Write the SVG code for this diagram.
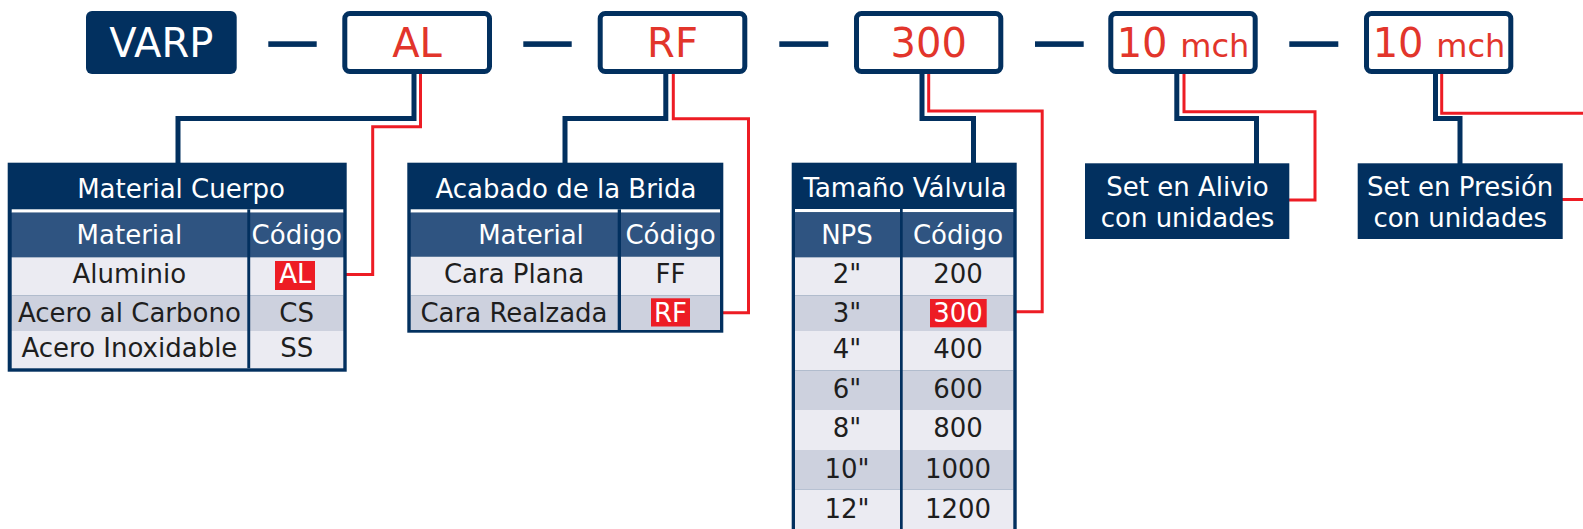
<svg xmlns="http://www.w3.org/2000/svg" width="1583" height="529" viewBox="0 0 1583 529">
<style>
text{font-family:"DejaVu Sans","Noto Sans",sans-serif}
.navy{fill:#02305f}
.code{fill:#fff;stroke:#02305f;stroke-width:5}
.big{font-size:40px;fill:#e2352b;text-anchor:middle}
.unit{font-size:32px}
.wt{fill:#fff;font-size:26px;text-anchor:middle}
.tt{fill:#1e1e1e;font-size:26px;text-anchor:middle}
.sub{fill:#2f5481}
.lt{fill:#ebebf2}
.dk{fill:#cdd1de}
.hl{fill:#ed1c24}
.cn{fill:none;stroke:#02305f;stroke-width:5}
.cr{fill:none;stroke:#ed1c24;stroke-width:3}
</style>
<g id="connectors">
<rect class="navy" x="268.3" y="41.3" width="48.4" height="5.6"/>
<rect class="navy" x="523.3" y="41.3" width="48.4" height="5.6"/>
<rect class="navy" x="779.3" y="41.3" width="49" height="5.6"/>
<rect class="navy" x="1035" y="41.3" width="48.7" height="5.6"/>
<rect class="navy" x="1289.3" y="41.3" width="49" height="5.6"/>
<path class="cn" d="M414,72 V118.5 H178 V164"/>
<path class="cn" d="M665.8,72 V118.5 H565 V164"/>
<path class="cn" d="M922,72 V118.5 H973.5 V164"/>
<path class="cn" d="M1176.8,72 V118.5 H1256.5 V164"/>
<path class="cn" d="M1435.5,72 V118.5 H1460 V164"/>
<path class="cr" d="M420.5,72 V126.7 H372.7 V274.5 H314"/>
<path class="cr" d="M673.3,72 V118.7 H748.5 V312.8 H689"/>
<path class="cr" d="M928.7,72 V111 H1042.2 V311.7 H985.7"/>
<path class="cr" d="M1184,72 V111.7 H1315 V200 H1288"/>
<path class="cr" d="M1441.7,72 V113.3 H1590"/>
<path class="cr" d="M1562,199.5 H1590"/>
</g>
<g id="varp">
<rect class="navy" x="86" y="11" width="150.7" height="63" rx="6"/>
<text x="161.3" y="57.3" font-size="40" fill="#fff" text-anchor="middle">VARP</text>
</g>
<g id="code-al">
<rect class="code" x="344.8" y="13.5" width="144.7" height="58" rx="5"/>
<text class="big" x="417" y="57.3">AL</text>
</g>
<g id="code-rf">
<rect class="code" x="600.2" y="13.5" width="144.6" height="58" rx="5"/>
<text class="big" x="672.5" y="57.3">RF</text>
</g>
<g id="code-300">
<rect class="code" x="856.5" y="13.5" width="144.3" height="58" rx="5"/>
<text class="big" x="928.7" y="57.3">300</text>
</g>
<g id="code-alivio">
<rect class="code" x="1110.8" y="13.5" width="144.4" height="58" rx="5"/>
<text class="big" x="1183" y="57.3">10 <tspan class="unit">mch</tspan></text>
</g>
<g id="code-presion">
<rect class="code" x="1366.5" y="13.5" width="144.3" height="58" rx="5"/>
<text class="big" x="1439" y="57.3">10 <tspan class="unit">mch</tspan></text>
</g>
<g id="set-alivio">
<rect class="navy" x="1085" y="163.3" width="204.3" height="75.7"/>
<text class="wt" x="1187.5" y="196">Set en Alivio</text>
<text class="wt" x="1187.5" y="227.3">con unidades</text>
</g>
<g id="set-presion">
<rect class="navy" x="1357.7" y="163.3" width="205" height="75.7"/>
<text class="wt" x="1460.2" y="196">Set en Presión</text>
<text class="wt" x="1460.2" y="227.3">con unidades</text>
</g>
<g id="table-material">
<rect class="navy" x="7.7" y="162.7" width="339" height="209"/>
<rect fill="#fff" x="11.7" y="209.3" width="331.6" height="3.4"/>
<rect class="sub" x="11.7" y="212.7" width="331.6" height="44.6"/>
<rect class="lt" x="11.7" y="257.3" width="331.6" height="38.4"/>
<rect class="dk" x="11.7" y="295.7" width="331.6" height="35.3"/>
<rect class="lt" x="11.7" y="331" width="331.6" height="37.3"/>
<rect class="navy" x="247.3" y="209.3" width="2.9" height="159"/>
<rect class="hl" x="275" y="261" width="40" height="29"/>
<text class="wt" x="181" y="197.5">Material Cuerpo</text>
<text class="wt" x="129.4" y="243.5">Material</text>
<text class="wt" x="296.7" y="243.5">Código</text>
<text class="tt" x="129.4" y="283.3">Aluminio</text>
<text class="wt" x="295.3" y="283.3">AL</text>
<text class="tt" x="129.4" y="321.7">Acero al Carbono</text>
<text class="tt" x="296.7" y="321.7">CS</text>
<text class="tt" x="129.4" y="356.7">Acero Inoxidable</text>
<text class="tt" x="296.7" y="356.7">SS</text>
</g>
<g id="table-brida">
<rect class="navy" x="407.3" y="162.7" width="316" height="170"/>
<rect fill="#fff" x="410.7" y="209.3" width="309.3" height="3.4"/>
<rect class="sub" x="410.7" y="212.7" width="309.3" height="44"/>
<rect class="lt" x="410.7" y="256.7" width="309.3" height="39"/>
<rect class="dk" x="410.7" y="295.7" width="309.3" height="34.3"/>
<rect class="navy" x="617.7" y="209.3" width="3.3" height="120.7"/>
<rect class="hl" x="651" y="298.3" width="39" height="28.2"/>
<text class="wt" x="566" y="197.5">Acabado de la Brida</text>
<text class="wt" x="531" y="243.5">Material</text>
<text class="wt" x="670.5" y="243.5">Código</text>
<text class="tt" x="514" y="283.3">Cara Plana</text>
<text class="tt" x="670.5" y="283.3">FF</text>
<text class="tt" x="514" y="321.7">Cara Realzada</text>
<text class="wt" x="670.5" y="321.7">RF</text>
</g>
<g id="table-tamano">
<rect class="navy" x="791.7" y="162.7" width="225" height="380"/>
<rect fill="#fff" x="795" y="209" width="218.3" height="3.3"/>
<rect class="sub" x="795" y="212.3" width="218.3" height="45"/>
<rect class="lt" x="795" y="257.3" width="218.3" height="38.4"/>
<rect class="dk" x="795" y="295.7" width="218.3" height="35.3"/>
<rect class="lt" x="795" y="331" width="218.3" height="39.7"/>
<rect class="dk" x="795" y="370.7" width="218.3" height="39.3"/>
<rect class="lt" x="795" y="410" width="218.3" height="40"/>
<rect class="dk" x="795" y="450" width="218.3" height="39.3"/>
<rect class="lt" x="795" y="489.3" width="218.3" height="45"/>
<rect class="navy" x="900" y="209" width="2.7" height="330"/>
<rect class="hl" x="930" y="299" width="56.7" height="28.3"/>
<text class="wt" x="905" y="197">Tamaño Válvula</text>
<text class="wt" x="847" y="243.5">NPS</text>
<text class="wt" x="958" y="243.5">Código</text>
<text class="tt" x="847" y="282.7">2"</text>
<text class="tt" x="958" y="282.7">200</text>
<text class="tt" x="847" y="321.7">3"</text>
<text class="wt" x="958" y="321.7">300</text>
<text class="tt" x="847" y="358.3">4"</text>
<text class="tt" x="958" y="358.3">400</text>
<text class="tt" x="847" y="398.3">6"</text>
<text class="tt" x="958" y="398.3">600</text>
<text class="tt" x="847" y="437.3">8"</text>
<text class="tt" x="958" y="437.3">800</text>
<text class="tt" x="847" y="478.3">10"</text>
<text class="tt" x="958" y="478.3">1000</text>
<text class="tt" x="847" y="518.3">12"</text>
<text class="tt" x="958" y="518.3">1200</text>
</g>
</svg>
